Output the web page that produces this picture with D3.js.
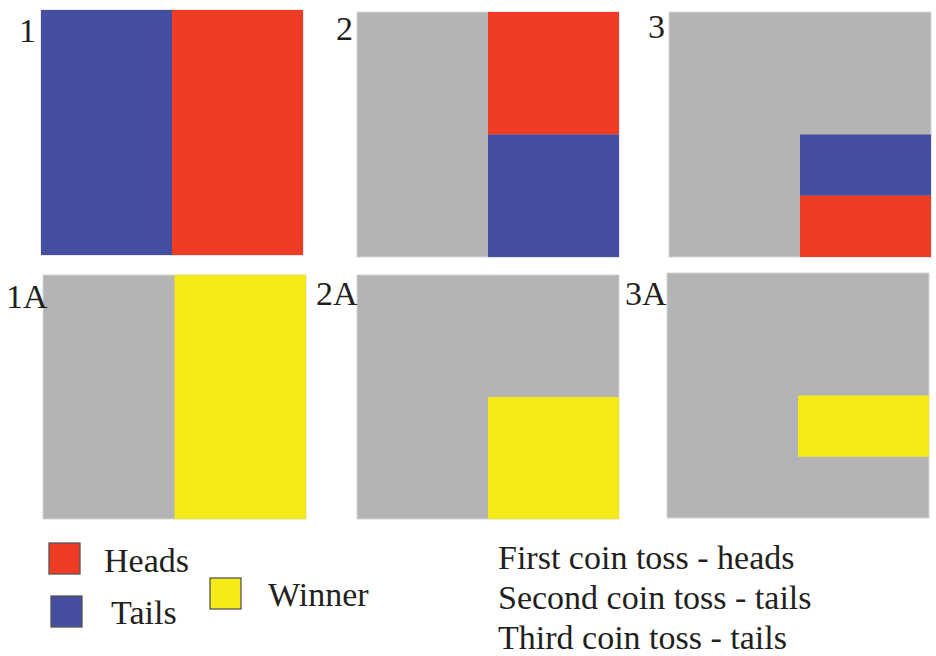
<!DOCTYPE html>
<html>
<head>
<meta charset="utf-8">
<script src="https://cdn.jsdelivr.net/npm/d3@7"></script>
<style>
  body { margin: 0; background: #fff; }
  svg { display: block; }
  svg text { font-family: "Liberation Serif", "Times New Roman", Times, "DejaVu Serif", serif; }
</style>
</head>
<body>
<div id="chart"></div>
<script>
// Data: each panel is a unit square split by coin toss outcomes
const panelNames = ["1", "2", "3", "1A", "2A", "3A"];
const outcomes = ["Heads", "Tails", "Winner"];
// cells in unit coordinates [x0, x1, y0, y1]
const cellPanel = ["1", "1", "2", "2", "3", "3", "1A", "2A", "3A"];
const cellKind  = ["Tails", "Heads", "Heads", "Tails", "Tails", "Heads", "Winner", "Winner", "Winner"];
const cellX0 = [0,   0.5, 0.5, 0.5, 0.5, 0.5,  0.5, 0.5, 0.5];
const cellX1 = [0.5, 1,   1,   1,   1,   1,    1,   1,   1];
const cellY0 = [0,   0,   0,   0.5, 0.5, 0.75, 0,   0.5, 0.5];
const cellY1 = [1,   1,   0.5, 1,   0.75, 1,   1,   1,   0.75];
const tossLines = ["First coin toss - heads", "Second coin toss - tails", "Third coin toss - tails"];

const W = 936, H = 656;
const serif = "'Liberation Serif', 'Times New Roman', Times, 'DejaVu Serif', serif";
const color = d3.scaleOrdinal()
    .domain(outcomes.concat(["none"]))
    .range(["#f03c24", "#454ea0", "#f5e916", "#b3b4b6"]);

// panel frames on the page: [left, top, right, bottom]
const frames = {
  "1":  [41, 10, 303, 255],
  "2":  [357, 12, 619, 257],
  "3":  [669, 12, 931, 257],
  "1A": [43, 275, 306, 519],
  "2A": [357, 275, 619, 519],
  "3A": [667, 273, 929, 518]
};
const labelPos = {
  "1": [19, 42], "2": [336, 40], "3": [648, 38],
  "1A": [6, 308], "2A": [316, 305], "3A": [625, 305]
};

const svg = d3.select("#chart").append("svg")
    .attr("width", W)
    .attr("height", H);

const cells = cellKind.map((k, i) => ({
  panel: cellPanel[i], kind: k,
  x0: cellX0[i], x1: cellX1[i], y0: cellY0[i], y1: cellY1[i]
}));

panelNames.forEach(name => {
  const f = frames[name];
  const x = d3.scaleLinear().domain([0, 1]).range([f[0], f[2]]);
  const y = d3.scaleLinear().domain([0, 1]).range([f[1], f[3]]);
  const g = svg.append("g").attr("class", "panel");

  // gray base
  g.append("rect")
      .attr("x", x(0)).attr("y", y(0))
      .attr("width", x(1) - x(0)).attr("height", y(1) - y(0))
      .attr("fill", color("none"))
      .attr("stroke", "#d6d6d8")
      .attr("stroke-width", 1);

  g.selectAll("rect.cell")
    .data(cells.filter(c => c.panel === name))
    .join("rect")
      .attr("class", "cell")
      .attr("x", d => x(d.x0))
      .attr("y", d => y(d.y0))
      .attr("width", d => x(d.x1) - x(d.x0))
      .attr("height", d => y(d.y1) - y(d.y0))
      .attr("fill", d => color(d.kind));

  svg.append("text")
      .attr("x", labelPos[name][0])
      .attr("y", labelPos[name][1])
      .attr("font-family", serif)
      .attr("font-size", 34)
      .attr("fill", "#231f20")
      .text(name);
});

// Legend
const legendPos = {
  "Heads":  {sx: 49, sy: 543, tx: 104, ty: 572},
  "Tails":  {sx: 51, sy: 596, tx: 111, ty: 624},
  "Winner": {sx: 210, sy: 578, tx: 268, ty: 606}
};
const legend = svg.append("g").attr("class", "legend");
legend.selectAll("rect")
  .data(outcomes)
  .join("rect")
    .attr("x", d => legendPos[d].sx)
    .attr("y", d => legendPos[d].sy)
    .attr("width", 31)
    .attr("height", 31)
    .attr("fill", d => color(d))
    .attr("stroke", "#555")
    .attr("stroke-width", 1.3);
legend.selectAll("text")
  .data(outcomes)
  .join("text")
    .attr("x", d => legendPos[d].tx)
    .attr("y", d => legendPos[d].ty)
    .attr("font-family", serif)
    .attr("font-size", 34)
    .attr("fill", "#231f20")
    .text(d => d);

// Toss results text
svg.append("g")
  .selectAll("text")
  .data(tossLines)
  .join("text")
    .attr("x", 498)
    .attr("y", (d, i) => 569 + i * 40)
    .attr("font-family", serif)
    .attr("font-size", 34)
    .attr("fill", "#231f20")
    .text(d => d);
</script>
</body>
</html>
